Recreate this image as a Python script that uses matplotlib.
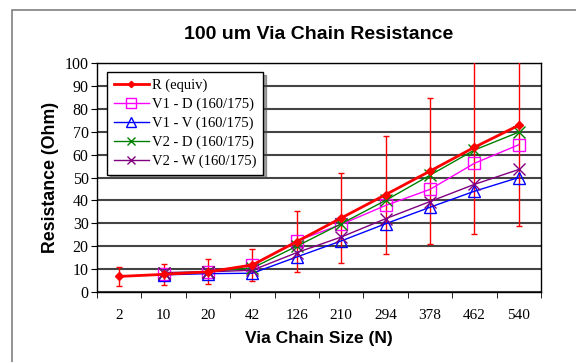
import matplotlib.pyplot as plt
from matplotlib.patches import Rectangle

# Data
sizes = ["2", "10", "20", "42", "126", "210", "294", "378", "462", "540"]
r_equiv = [6.8, 7.7, 8.8, 11.8, 22.0, 32.3, 42.5, 52.8, 63.2, 72.8]
r_err = [4.1, 4.7, 5.4, 7.0, 13.2, 19.6, 25.8, 31.7, 38.0, 43.8]
v1_d = [7.8, 8.8, 11.8, 22.3, 29.5, 37.8, 44.8, 56.2, 64.3]
v1_v = [7.5, 8.0, 8.2, 15.3, 22.3, 29.8, 37.0, 44.0, 50.0]
v2_d = [8.3, 8.8, 10.5, 20.0, 29.8, 40.0, 51.0, 62.0, 69.8]
v2_w = [8.5, 8.8, 9.5, 17.2, 24.0, 32.0, 39.5, 47.0, 53.5]

serif = "Liberation Serif"
sans = "Liberation Sans"

fig = plt.figure(figsize=(5.76, 3.62), dpi=100)
ax = fig.add_axes([97 / 576, 1 - 292 / 362, (541 - 97) / 576, (292 - 63) / 362])

# outer chart frame
fig.patches.append(Rectangle((12 / 576, -0.1), 1.2, 1 - 10 / 362 + 0.1,
                             transform=fig.transFigure, fill=False,
                             edgecolor="#808080", lw=1.2))

x = list(range(len(sizes)))
xs = x[1:]

ax.errorbar(x, r_equiv, yerr=r_err, fmt="none", ecolor="red",
            elinewidth=1, capsize=2.5, zorder=4)
h_r, = ax.plot(x, r_equiv, color="red", lw=2, marker="D", ms=4,
               label="R (equiv)", zorder=6)
h1, = ax.plot(xs, v1_d, color="magenta", lw=1, marker="s", ms=8.5, mfc="none",
              mew=1, label="V1 - D (160/175)", zorder=5)
h2, = ax.plot(xs, v1_v, color="blue", lw=1, marker="^", ms=8.5, mfc="none",
              mew=1, label="V1 - V (160/175)", zorder=5)
h3, = ax.plot(xs, v2_d, color="green", lw=1, marker="x", ms=8,
              mew=1, label="V2 - D (160/175)", zorder=5)
h4, = ax.plot(xs, v2_w, color="purple", lw=1, marker="x", ms=8,
              mew=1, label="V2 - W (160/175)", zorder=5)

ax.set_xlim(-0.5, len(sizes) - 0.5)
ax.set_ylim(0, 100)
ax.set_yticks(range(0, 101, 10))
ax.set_xticks(x)
ax.set_xticklabels(sizes, fontfamily=serif, fontsize=11)
ax.set_xticks([i - 0.5 for i in range(len(sizes) + 1)], minor=True)
ax.tick_params(axis="x", which="major", length=0, pad=12)
ax.tick_params(axis="x", which="minor", length=4, direction="out")
ax.tick_params(axis="y", length=4, direction="out", labelsize=11.5, pad=2)
for lab in ax.get_yticklabels():
    lab.set_fontfamily(serif)

ax.grid(axis="y", color="#444444", lw=1.5)
ax.set_axisbelow(True)
for s in ax.spines.values():
    s.set_color("black")
    s.set_linewidth(1)

ax.set_title("100 um Via Chain Resistance", fontfamily=sans, fontweight="bold",
             fontsize=14, pad=17)
ax.set_xlabel("Via Chain Size (N)", fontfamily=sans, fontweight="bold",
              fontsize=12.5, labelpad=7)
ax.set_ylabel("Resistance (Ohm)", fontfamily=sans, fontweight="bold",
              fontsize=12.8, labelpad=4)

leg = ax.legend(handles=[h_r, h1, h2, h3, h4], loc="upper left",
                bbox_to_anchor=(0.023, 0.961), borderaxespad=0,
                prop={"family": serif, "size": 10.5}, frameon=True,
                fancybox=False, shadow=True, framealpha=1, borderpad=0.45,
                labelspacing=0.38, handlelength=2.4, handletextpad=0.2,
                markerscale=0.8)
leg.get_frame().set_edgecolor("black")
leg.get_frame().set_linewidth(1)

fig.savefig("out.png", dpi=100)
